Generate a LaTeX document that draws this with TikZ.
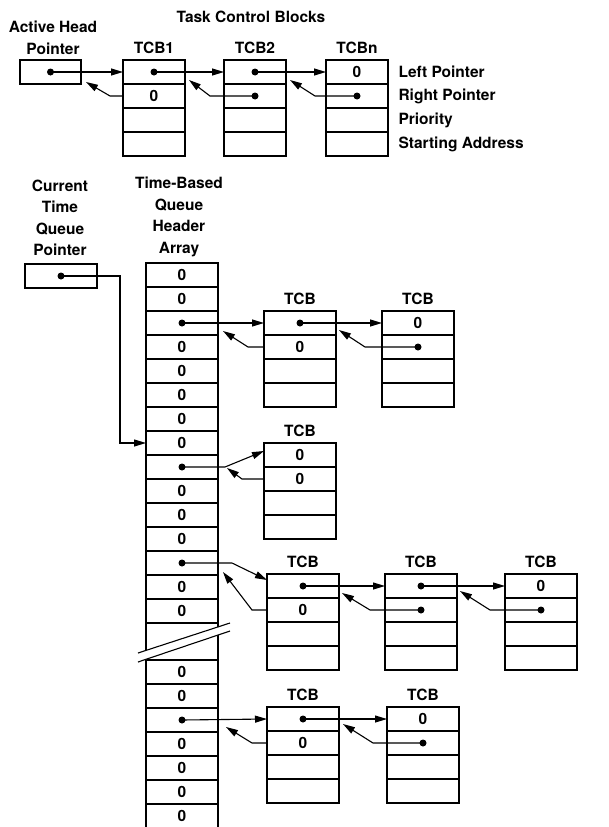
\documentclass[tikz,border=0pt]{standalone}
\usepackage{fontspec}
\setmainfont{TeX Gyre Heros}
\usepackage{tikz}
\usetikzlibrary{positioning, calc, arrows.meta}

\begin{document}
\begin{tikzpicture}[
    x=1pt, y=1pt,
    every node/.style={font=\bfseries\fontsize{15.5}{21.5}\selectfont},
    cell/.style={draw, line width=1.1pt, inner sep=0pt, outer sep=0pt, minimum width=72pt, minimum height=24pt, anchor=north west},
    tcblabel/.style={inner sep=1pt},
    ptr/.style={line width=1.1pt, -{Triangle[length=12pt, width=7pt]}}
]
\useasboundingbox (0,0) rectangle (609,-827);

% Active task list (top)
\node[align=center] (tcbtitle) at (251,-17) {Task Control Blocks};
\node[align=center] (ahtitle) at (53,-38) {Active Head\\Pointer};
\node[cell, minimum width=61pt] (ah) at (20,-60) {};

\foreach \t [count=\i] in {{},0,{},{}}
    \node[cell, minimum width=62pt] (tcb1-\i) at (123,{-60-24*(\i-1)}) {\t};
\foreach \t [count=\i] in {{},{},{},{}}
    \node[cell, minimum width=62pt] (tcb2-\i) at (224,{-60-24*(\i-1)}) {\t};
\foreach \t [count=\i] in {0,{},{},{}}
    \node[cell, minimum width=62pt] (tcbn-\i) at (326,{-60-24*(\i-1)}) {\t};

\node[tcblabel, above=5pt of tcb1-1] (tcb1t) {TCB1};
\node[tcblabel, above=5pt of tcb2-1] (tcb2t) {TCB2};
\node[tcblabel, above=5pt of tcbn-1] (tcbnt) {TCBn};

% Field names
\node[right=7pt of tcbn-1] (lp) {Left Pointer};
\node[right=7pt of tcbn-2] (rp) {Right Pointer};
\node[right=7pt of tcbn-3] (prio) {Priority};
\node[right=7pt of tcbn-4] (start) {Starting Address};

% Links
\draw[ptr] (ah.center) -- (tcb1-1.west);
\draw[ptr] (tcb1-1.center) -- (tcb2-1.west);
\draw[ptr] (tcb2-1.center) -- (tcbn-1.west);
\draw[ptr] (tcb1-2.west) -- ++(-13,0) -- ($(ah.east)+(5,-10)$);
\draw[ptr] (tcb2-2.center) -- ($(tcb2-2.west)+(-14,0)$) -- ($(tcb1-1.east)+(4,-8)$);
\draw[ptr] (tcbn-2.center) -- ($(tcbn-2.west)+(-11,0)$) -- ($(tcb2-1.east)+(4,-8)$);

% Time-based queues
\node[align=center] (ctqtitle) at (60,-218) {Current\\Time\\Queue\\Pointer};
\node[align=center] (arrtitle) at (179,-217) {Time-Based\\Queue\\Header\\Array};
\node[cell] (ctq) at (25,-264) {};

\foreach \t [count=\i] in {0,0,{},0,0,0,0,0,{},0,0,0,{},0,0}
    \node[cell] (q\i) at (146,{-263-24*(\i-1)}) {\t};
\node[cell, minimum height=37pt] (qgap) at (146,-623) {};
\foreach \t [count=\i] in {0,0,{},0,0,0,0}
    \node[cell] (r\i) at (146,{-660-24*(\i-1)}) {\t};

% Break in the array
\fill[white] (138,-653) -- (230,-623) -- (230,-631) -- (138,-662) -- cycle;
\draw[line width=1.1pt] (138,-653) -- (230,-623);
\draw[line width=1.1pt] (138,-662) -- (230,-631);

\draw[ptr] (ctq.center) -- ++(59,0) |- (q8.west);

% Queue A
\foreach \t [count=\i] in {{},0,{},{}}
    \node[cell] (a1-\i) at (264,{-311-24*(\i-1)}) {\t};
\foreach \t [count=\i] in {0,{},{},{}}
    \node[cell] (a2-\i) at (382,{-311-24*(\i-1)}) {\t};
\node[tcblabel, above=5pt of a1-1] (a1t) {TCB};
\node[tcblabel, above=5pt of a2-1] (a2t) {TCB};
\draw[ptr] (q3.center) -- (a1-1.west);
\draw[ptr] (a1-2.west) -- ++(-16,0) -- ($(q3.east)+(5,-8)$);
\draw[ptr] (a1-1.center) -- (a2-1.west);
\draw[ptr] (a2-2.center) -- ($(a2-2.west)+(-17,0)$) -- ($(a1-1.east)+(3,-7)$);

% Queue B
\foreach \t [count=\i] in {0,0,{},{}}
    \node[cell] (b1-\i) at (264,{-443-24*(\i-1)}) {\t};
\node[tcblabel, above=5pt of b1-1] (b1t) {TCB};
\draw[ptr] (q9.center) -- ($(q9.east)+(7,0)$) -- ($(b1-1.west)+(0,4)$);
\draw[ptr] (b1-2.west) -- ++(-22,0) -- ($(q9.east)+(9,-1)$);

% Queue C
\foreach \t [count=\i] in {{},0,{},{}}
    \node[cell] (c1-\i) at (267,{-574-24*(\i-1)}) {\t};
\foreach \t [count=\i] in {{},{},{},{}}
    \node[cell] (c2-\i) at (385,{-574-24*(\i-1)}) {\t};
\foreach \t [count=\i] in {0,{},{},{}}
    \node[cell] (c3-\i) at (505,{-574-24*(\i-1)}) {\t};
\node[tcblabel, above=5pt of c1-1] (c1t) {TCB};
\node[tcblabel, above=5pt of c2-1] (c2t) {TCB};
\node[tcblabel, above=5pt of c3-1] (c3t) {TCB};
\draw[ptr] (q13.center) -- ($(q13.east)+(14,0)$) -- ($(c1-1.west)+(0,6)$);
\draw[ptr] (c1-2.west) -- ++(-15,0) -- ($(q13.east)+(5,-9)$);
\draw[ptr] (c1-1.center) -- (c2-1.west);
\draw[ptr] (c2-2.center) -- ($(c2-2.west)+(-15,0)$) -- ($(c1-1.east)+(3,-7)$);
\draw[ptr] (c2-1.center) -- (c3-1.west);
\draw[ptr] (c3-2.center) -- ($(c3-2.west)+(-15,0)$) -- ($(c2-1.east)+(3,-5)$);

% Queue D
\foreach \t [count=\i] in {{},0,{},{}}
    \node[cell] (d1-\i) at (267,{-707-24*(\i-1)}) {\t};
\foreach \t [count=\i] in {0,{},{},{}}
    \node[cell] (d2-\i) at (387,{-707-24*(\i-1)}) {\t};
\node[tcblabel, above=5pt of d1-1] (d1t) {TCB};
\node[tcblabel, above=5pt of d2-1] (d2t) {TCB};
\draw[ptr] (r3.center) -- (d1-1.west);
\draw[ptr] (d1-2.west) -- ++(-15,0) -- ($(r3.east)+(8,-7)$);
\draw[ptr] (d1-1.center) -- (d2-1.west);
\draw[ptr] (d2-2.center) -- ($(d2-2.west)+(-14,0)$) -- ($(d1-1.east)+(4,-5)$);

% Pointer dots
\foreach \p in {ah, tcb1-1, tcb2-1, tcb2-2, tcbn-2, ctq, q3, q9, q13, r3,
                a1-1, a2-2, c1-1, c2-1, c2-2, c3-2, d1-1, d2-2}
    \fill (\p.center) circle (3.5pt);

\end{tikzpicture}
\end{document}
